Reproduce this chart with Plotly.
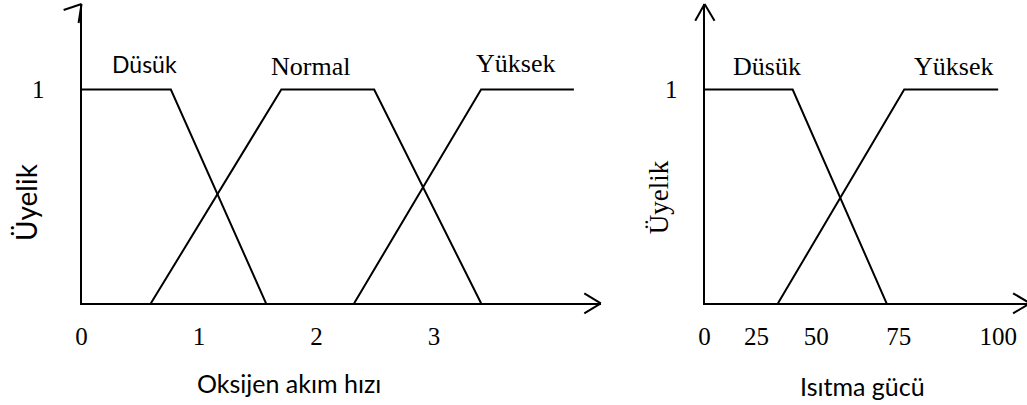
import plotly.graph_objects as go

# ---------------- data ----------------
# Left chart: Oksijen akım hızı (membership functions)
oks_dusuk_x = [0, 0.76, 1.57]
oks_dusuk_y = [1, 1, 0]
oks_normal_x = [0.59, 1.70, 2.49, 3.40]
oks_normal_y = [0, 1, 1, 0]
oks_yuksek_x = [2.32, 3.40, 4.19]
oks_yuksek_y = [0, 1, 1]
oks_tick_vals = [0, 1, 2, 3]
oks_tick_text = ["0", "1", "2", "3"]

# Right chart: Isıtma gücü
isi_dusuk_x = [0, 30, 62]
isi_dusuk_y = [1, 1, 0]
isi_yuksek_x = [25, 68, 100]
isi_yuksek_y = [0, 1, 1]
isi_tick_vals = [0, 17.7, 38, 66.1, 100]
isi_tick_text = ["0", "25", "50", "75", "100"]

y_tick_vals = [1]
y_tick_text = ["1"]

# ---------------- layout helpers ----------------
W, H = 1027, 405
SERIF = "Liberation Serif"
SANS = "Lato"


def px(x):
    return x / W


def py(y):
    return 1 - y / H


base_y = 303.3
top_y = 4
one_y = 89.5
y_range = [0, (base_y - top_y) / (base_y - one_y)]

L0, L1 = 76, 598.3
L_scale = 118.2
R0, R1 = 702.7, 1027
R_scale = 2.953

line_style = dict(color="black", width=2)

fig = go.Figure()
for xs, ys in [(oks_dusuk_x, oks_dusuk_y), (oks_normal_x, oks_normal_y), (oks_yuksek_x, oks_yuksek_y)]:
    fig.add_trace(go.Scatter(x=xs, y=ys, mode="lines", line=line_style,
                             xaxis="x", yaxis="y", showlegend=False, cliponaxis=False,
                             hoverinfo="skip"))
for xs, ys in [(isi_dusuk_x, isi_dusuk_y), (isi_yuksek_x, isi_yuksek_y)]:
    fig.add_trace(go.Scatter(x=xs, y=ys, mode="lines", line=line_style,
                             xaxis="x2", yaxis="y2", showlegend=False, cliponaxis=False,
                             hoverinfo="skip"))

axis_common = dict(showgrid=False, zeroline=False, showline=True, linecolor="black",
                   linewidth=2, ticks="", fixedrange=True)

fig.update_layout(
    width=W, height=H,
    margin=dict(l=0, r=0, t=0, b=0),
    paper_bgcolor="white", plot_bgcolor="white",
    xaxis=dict(domain=[px(L0), px(L1)], range=[0, (L1 - L0) / L_scale],
               tickvals=oks_tick_vals, ticktext=oks_tick_text,
               tickfont=dict(family=SERIF, size=25, color="black"),
               ticklabelstandoff=10, anchor="y", **axis_common),
    yaxis=dict(domain=[py(base_y), py(top_y)], range=y_range,
               tickvals=y_tick_vals, ticktext=y_tick_text,
               tickfont=dict(family=SERIF, size=25, color="black"),
               ticklabelstandoff=30, anchor="x", **axis_common),
    xaxis2=dict(domain=[px(R0), px(R1)], range=[0, (R1 - R0) / R_scale],
                tickvals=isi_tick_vals, ticktext=isi_tick_text,
                tickfont=dict(family=SERIF, size=25, color="black"),
                ticklabelstandoff=10, anchor="y2", **axis_common),
    yaxis2=dict(domain=[py(base_y), py(top_y)], range=y_range,
                tickvals=y_tick_vals, ticktext=y_tick_text,
                tickfont=dict(family=SERIF, size=25, color="black"),
                ticklabelstandoff=20, anchor="x2", **axis_common),
)

# arrow barbs (open arrowheads) on the axes
barbs = [
    # left x axis
    ((598.3, base_y), (581.7, 293.3)), ((598.3, base_y), (581.7, 313.3)),
    # left y axis (hooked tip)
    ((76, top_y), (58, 10)), ((76, top_y), (73, 23)),
    # right y axis
    ((R0, top_y), (693.3, 20.7)), ((R0, top_y), (712.7, 20.7)),
    # right x axis
    ((1030, base_y), (1013, 293.3)), ((1030, base_y), (1013, 313.3)),
]
for (x0, y0), (x1, y1) in barbs:
    fig.add_shape(type="line", xref="paper", yref="paper",
                  x0=px(x0), y0=py(y0), x1=px(x1), y1=py(y1),
                  line=dict(color="black", width=2))

annos = [
    ("Düsük", 139, 64, SANS, 23, 0),
    ("Normal", 306, 66, SERIF, 26, 0),
    ("Yüksek", 512, 64, SERIF, 26, 0),
    ("Oksijen akım hızı", 285, 383, SANS, 25, 0),
    ("Üyelik", 20, 202, SANS, 28, -90),
    ("Düsük", 765, 66, SERIF, 26, 0),
    ("Yüksek", 953, 66, SERIF, 26, 0),
    ("Isıtma gücü", 862, 386, SANS, 25, 0),
    ("Üyelik", 657, 197, SERIF, 27, -90),
]
for text, x, y, fam, size, ang in annos:
    fig.add_annotation(text=text, xref="paper", yref="paper", x=px(x), y=py(y),
                       xanchor="center", yanchor="middle", showarrow=False,
                       textangle=ang, font=dict(family=fam, size=size, color="black"))

fig.write_html("out.html", config={"displayModeBar": False},
               post_script="document.body.style.margin='0px';document.body.style.overflow='hidden';")
